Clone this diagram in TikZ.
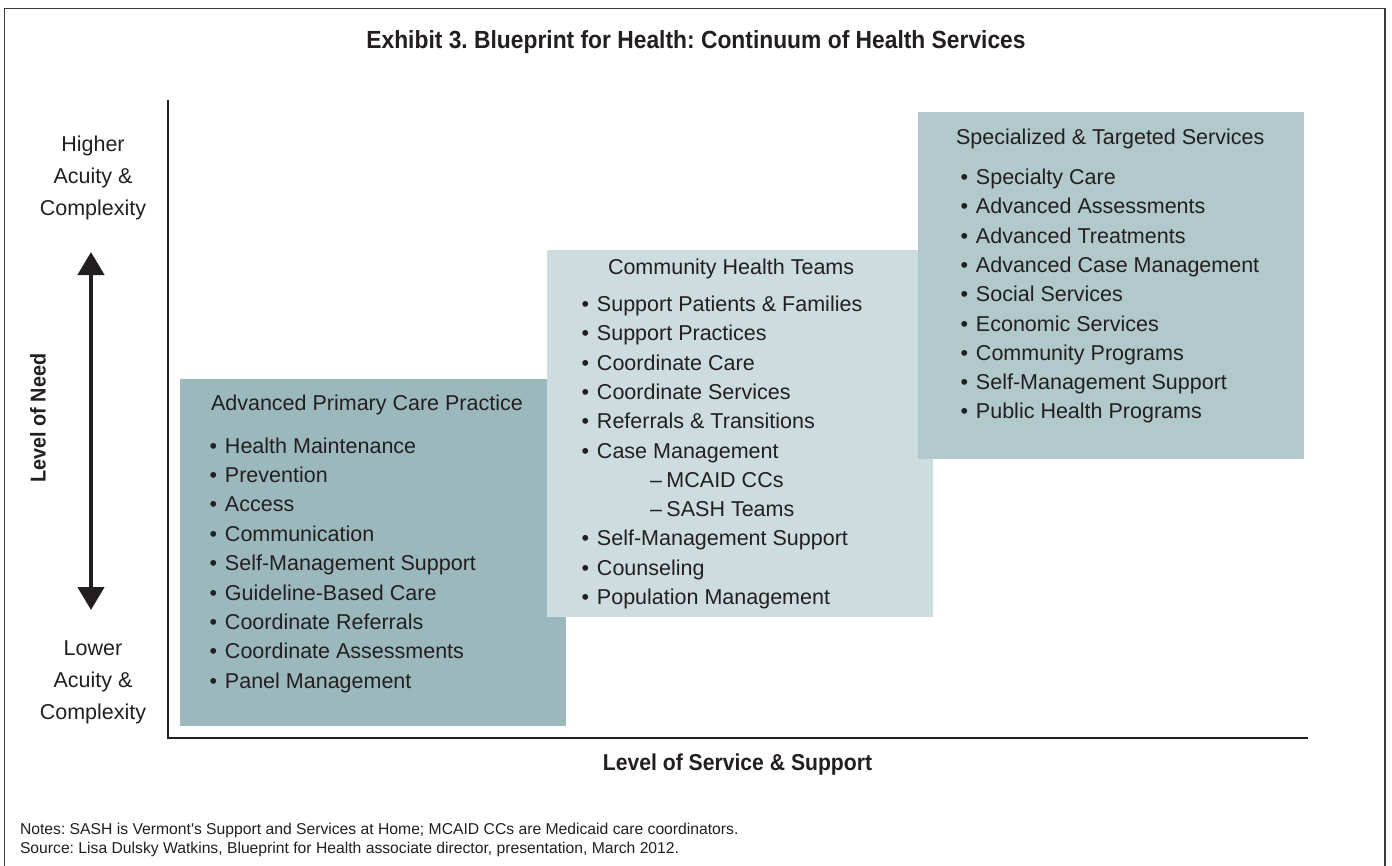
\documentclass[tikz,border=0pt]{standalone}
\usepackage{fontspec}
\setmainfont{Liberation Sans}
\newfontfamily\condbf{Liberation Sans}[FakeStretch=0.92]
\usetikzlibrary{arrows.meta}
\definecolor{ink}{HTML}{231F20}
\definecolor{apcfill}{HTML}{9BB9BC}
\definecolor{chtfill}{HTML}{CCDCDF}
\definecolor{specfill}{HTML}{B1C9CB}
\definecolor{framecol}{HTML}{3A3A3A}
\newcommand{\bul}[1]{\makebox[15.5pt][l]{\textbullet}#1}
\newcommand{\subit}[1]{\makebox[16.5pt][l]{--}#1}
\frenchspacing
\begin{document}
\begin{tikzpicture}[x=1pt,y=-1pt,
  lbl/.style={inner sep=0pt, outer sep=0pt, text=ink, font=\fontsize{21.5}{25}\selectfont},
  item/.style={lbl, anchor=base west},
  side/.style={lbl, anchor=base},
  boldlbl/.style={inner sep=0pt, outer sep=0pt, text=ink, font=\condbf\bfseries\fontsize{23}{26}\selectfont},
  notetxt/.style={inner sep=0pt, outer sep=0pt, text=ink, anchor=base west, font=\fontsize{15.7}{18}\selectfont},
  panel/.style={draw=none, inner sep=0pt, outer sep=0pt, anchor=north west}
]
\useasboundingbox (0,0) rectangle (1392,865);
\fill[white] (0,0) rectangle (1392,865);
\draw[framecol, line width=1.4pt] (4.5,8.5) rectangle (1385,880);

% title
\node[boldlbl, anchor=base, font=\condbf\bfseries\fontsize{24.8}{28}\selectfont] (title) at (696,48)
  {Exhibit 3. Blueprint for Health: Continuum of Health Services};

% panels
\node[panel, fill=apcfill, minimum width=386pt, minimum height=347pt] (apc) at (180,379) {};
\node[panel, fill=chtfill, minimum width=386pt, minimum height=367pt] (cht) at (547,250) {};
\node[panel, fill=specfill, minimum width=386pt, minimum height=347pt] (spec) at (918,112) {};

% axes
\coordinate (ytop) at (168,100);
\coordinate (origin) at (168,738);
\coordinate (xend) at (1308,738);
\draw[ink, line width=1.4pt] (ytop) -- (origin);
\draw[ink, line width=2.2pt] ([xshift=-0.7pt]origin) -- (xend);

% arrow
\coordinate (aup) at (91,252);
\coordinate (adown) at (91,610);
\draw[ink, line width=4.5pt, {Triangle[width=26pt,length=23pt]}-{Triangle[width=26pt,length=23pt]}] (adown) -- (aup);

% side labels
\node[side] (hi1) at (93,151.5) {Higher};
\node[side] (hi2) at (93,183.5) {Acuity \&};
\node[side] (hi3) at (93,215.5) {Complexity};
\node[side] (lo1) at (93,655.5) {Lower};
\node[side] (lo2) at (93,687.5) {Acuity \&};
\node[side] (lo3) at (93,719.5) {Complexity};

\node[boldlbl, rotate=90, font=\condbf\bfseries\fontsize{21.5}{25}\selectfont] (need) at (38,418) {Level of Need};
\node[boldlbl, anchor=base] (service) at (737.5,770) {Level of Service \& Support};

% APC text
\node[item] (apch) at (211,410.5) {Advanced Primary Care Practice};
\node[item] (a1) at (209.5,453) {\bul{Health Maintenance}};
\node[item] (a2) at (209.5,482.4) {\bul{Prevention}};
\node[item] (a3) at (209.5,511.8) {\bul{Access}};
\node[item] (a4) at (209.5,541.2) {\bul{Communication}};
\node[item] (a5) at (209.5,570.6) {\bul{Self-Management Support}};
\node[item] (a6) at (209.5,600) {\bul{Guideline-Based Care}};
\node[item] (a7) at (209.5,629.4) {\bul{Coordinate Referrals}};
\node[item] (a8) at (209.5,658.8) {\bul{Coordinate Assessments}};
\node[item] (a9) at (209.5,688.2) {\bul{Panel Management}};

% CHT text
\node[item] (chth) at (608,274) {Community Health Teams};
\node[item] (c1) at (581.5,311.5) {\bul{Support Patients \& Families}};
\node[item] (c2) at (581.5,340.8) {\bul{Support Practices}};
\node[item] (c3) at (581.5,370.1) {\bul{Coordinate Care}};
\node[item] (c4) at (581.5,399.4) {\bul{Coordinate Services}};
\node[item] (c5) at (581.5,428.7) {\bul{Referrals \& Transitions}};
\node[item] (c6) at (581.5,458) {\bul{Case Management}};
\node[item] (c6a) at (650,487.3) {\subit{MCAID CCs}};
\node[item] (c6b) at (650,516.6) {\subit{SASH Teams}};
\node[item] (c7) at (581.5,545.9) {\bul{Self-Management Support}};
\node[item] (c8) at (581.5,575.2) {\bul{Counseling}};
\node[item] (c9) at (581.5,604.5) {\bul{Population Management}};

% Specialized text
\node[item] (spech) at (956,144) {Specialized \& Targeted Services};
\node[item] (s1) at (960.5,184.5) {\bul{Specialty Care}};
\node[item] (s2) at (960.5,213.8) {\bul{Advanced Assessments}};
\node[item] (s3) at (960.5,243.1) {\bul{Advanced Treatments}};
\node[item] (s4) at (960.5,272.4) {\bul{Advanced Case Management}};
\node[item] (s5) at (960.5,301.7) {\bul{Social Services}};
\node[item] (s6) at (960.5,331) {\bul{Economic Services}};
\node[item] (s7) at (960.5,360.3) {\bul{Community Programs}};
\node[item] (s8) at (960.5,389.6) {\bul{Self-Management Support}};
\node[item] (s9) at (960.5,418.9) {\bul{Public Health Programs}};

% notes
\node[notetxt] (notes) at (20,834) {Notes: SASH is Vermont\textquotesingle s Support and Services at Home; MCAID CCs are Medicaid care coordinators.};
\node[notetxt] (source) at (20,853) {Source: Lisa Dulsky Watkins, Blueprint for Health associate director, presentation, March 2012.};
\end{tikzpicture}
\end{document}
